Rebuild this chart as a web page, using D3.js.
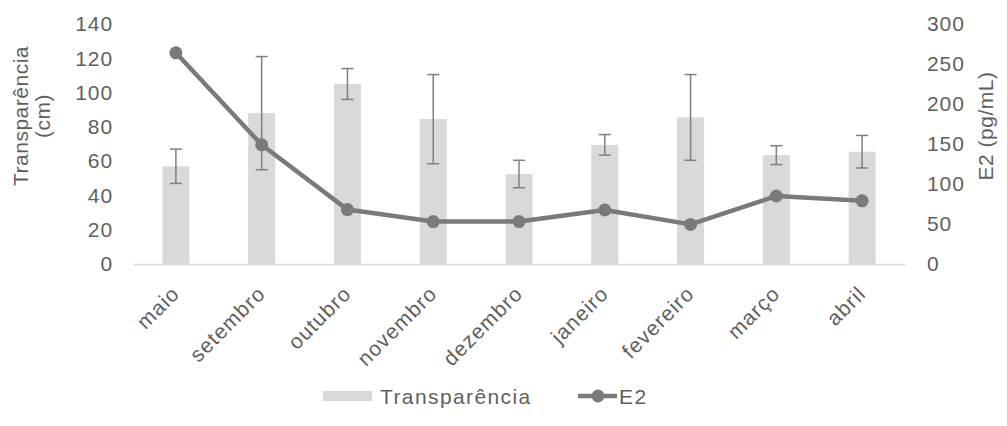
<!DOCTYPE html>
<html>
<head>
<meta charset="utf-8">
<script src="https://cdn.jsdelivr.net/npm/d3@7/dist/d3.min.js"></script>
<style>
  html, body { margin: 0; padding: 0; background: #fff; }
  svg text { font-family: "Liberation Sans", Arial, sans-serif; fill: #5f5f5f; }
</style>
</head>
<body>
<svg id="chart" width="1007" height="426"></svg>
<script>
// Monthly data
const months = ["maio", "setembro", "outubro", "novembro", "dezembro", "janeiro", "fevereiro", "março", "abril"];
const transparencia = [57, 88, 105, 84.5, 52.5, 69.5, 85.5, 63.5, 65.5];   // cm
const transparenciaErr = [10, 33, 9, 26, 8, 6, 25, 5.5, 9.5];              // ± cm
const e2 = [264, 149, 68, 53, 53, 67.5, 49.5, 85, 79];                      // pg/mL
const leftTicks = [0, 20, 40, 60, 80, 100, 120, 140];
const rightTicks = [0, 50, 100, 150, 200, 250, 300];

const svg = d3.select("#chart");
const plot = { left: 133, right: 905, top: 24, bottom: 264 };

const x = d3.scaleBand().domain(months).range([plot.left, plot.right]).padding(0);
const barW = x.bandwidth() * 0.315;
const yL = d3.scaleLinear().domain([0, 140]).range([plot.bottom, plot.top]);
const yR = d3.scaleLinear().domain([0, 300]).range([plot.bottom, plot.top]);

const textColor = "#5f5f5f";
const fontSize = 21;

// Bars
svg.append("g").selectAll("rect")
  .data(months)
  .join("rect")
  .attr("x", (d) => x(d) + (x.bandwidth() - barW) / 2)
  .attr("y", (d, i) => yL(transparencia[i]))
  .attr("width", barW)
  .attr("height", (d, i) => yL(0) - yL(transparencia[i]))
  .attr("fill", "#d9d9d9");

// Error bars
const err = svg.append("g").attr("stroke", "#7f7f7f").attr("stroke-width", 1.5);
months.forEach((m, i) => {
  const cx = x(m) + x.bandwidth() / 2;
  const hi = yL(transparencia[i] + transparenciaErr[i]);
  const lo = yL(transparencia[i] - transparenciaErr[i]);
  err.append("line").attr("x1", cx).attr("x2", cx).attr("y1", hi).attr("y2", lo);
  err.append("line").attr("x1", cx - 6).attr("x2", cx + 6).attr("y1", hi).attr("y2", hi);
  err.append("line").attr("x1", cx - 6).attr("x2", cx + 6).attr("y1", lo).attr("y2", lo);
});

// Left axis
const gL = svg.append("g")
  .attr("transform", `translate(${plot.left},0)`)
  .call(d3.axisLeft(yL).tickValues(leftTicks).tickSize(0).tickPadding(20));
gL.select(".domain").remove();
gL.selectAll("text").style("font-size", fontSize + "px").attr("fill", textColor).style("letter-spacing", "0.9px");

// Right axis
const gR = svg.append("g")
  .attr("transform", `translate(${plot.right},0)`)
  .call(d3.axisRight(yR).tickValues(rightTicks).tickSize(0).tickPadding(22));
gR.select(".domain").remove();
gR.selectAll("text").style("font-size", fontSize + "px").attr("fill", textColor).style("letter-spacing", "0.9px");

// Bottom axis with rotated month names
const gB = svg.append("g")
  .attr("transform", `translate(0,${plot.bottom})`)
  .call(d3.axisBottom(x).tickSize(0));
gB.select(".domain").attr("stroke", "#d9d9d9").attr("stroke-width", 1.5);
gB.selectAll("text")
  .style("font-size", fontSize + "px")
  .style("letter-spacing", "1.1px")
  .attr("fill", textColor)
  .attr("text-anchor", "end")
  .attr("y", null)
  .attr("dy", null)
  .attr("transform", "translate(5,31) rotate(-45)");

// E2 line with markers
const line = d3.line()
  .x((d, i) => x(months[i]) + x.bandwidth() / 2)
  .y((d) => yR(d));
svg.append("path")
  .datum(e2)
  .attr("d", line)
  .attr("fill", "none")
  .attr("stroke", "#7a7a7a")
  .attr("stroke-width", 4.5)
  .attr("stroke-linejoin", "round");
svg.append("g").selectAll("circle")
  .data(e2)
  .join("circle")
  .attr("cx", (d, i) => x(months[i]) + x.bandwidth() / 2)
  .attr("cy", (d) => yR(d))
  .attr("r", 6.5)
  .attr("fill", "#7a7a7a");

// Axis titles
const titleL = svg.append("text")
  .attr("transform", "translate(0,116) rotate(-90)")
  .attr("text-anchor", "middle")
  .style("font-size", fontSize + "px")
  .style("letter-spacing", "0.5px");
titleL.append("tspan").attr("x", 0).attr("y", 28).text("Transparência");
titleL.append("tspan").attr("x", 0).attr("y", 50).text("(cm)");

svg.append("text")
  .attr("transform", "translate(993,126) rotate(-90)")
  .attr("text-anchor", "middle")
  .style("font-size", fontSize + "px")
  .style("letter-spacing", "0.5px")
  .text("E2 (pg/mL)");

// Legend
const legend = svg.append("g");
legend.append("rect")
  .attr("x", 323).attr("y", 391).attr("width", 49).attr("height", 10)
  .attr("fill", "#d9d9d9");
legend.append("text")
  .attr("x", 380).attr("y", 404)
  .style("font-size", fontSize + "px")
  .style("letter-spacing", "1.4px")
  .text("Transparência");
legend.append("line")
  .attr("x1", 578).attr("x2", 617).attr("y1", 396).attr("y2", 396)
  .attr("stroke", "#7a7a7a").attr("stroke-width", 4.5);
legend.append("circle")
  .attr("cx", 598).attr("cy", 396).attr("r", 6.5).attr("fill", "#7a7a7a");
legend.append("text")
  .attr("x", 619).attr("y", 404)
  .style("font-size", fontSize + "px")
  .style("letter-spacing", "1.4px")
  .text("E2");
</script>
</body>
</html>
